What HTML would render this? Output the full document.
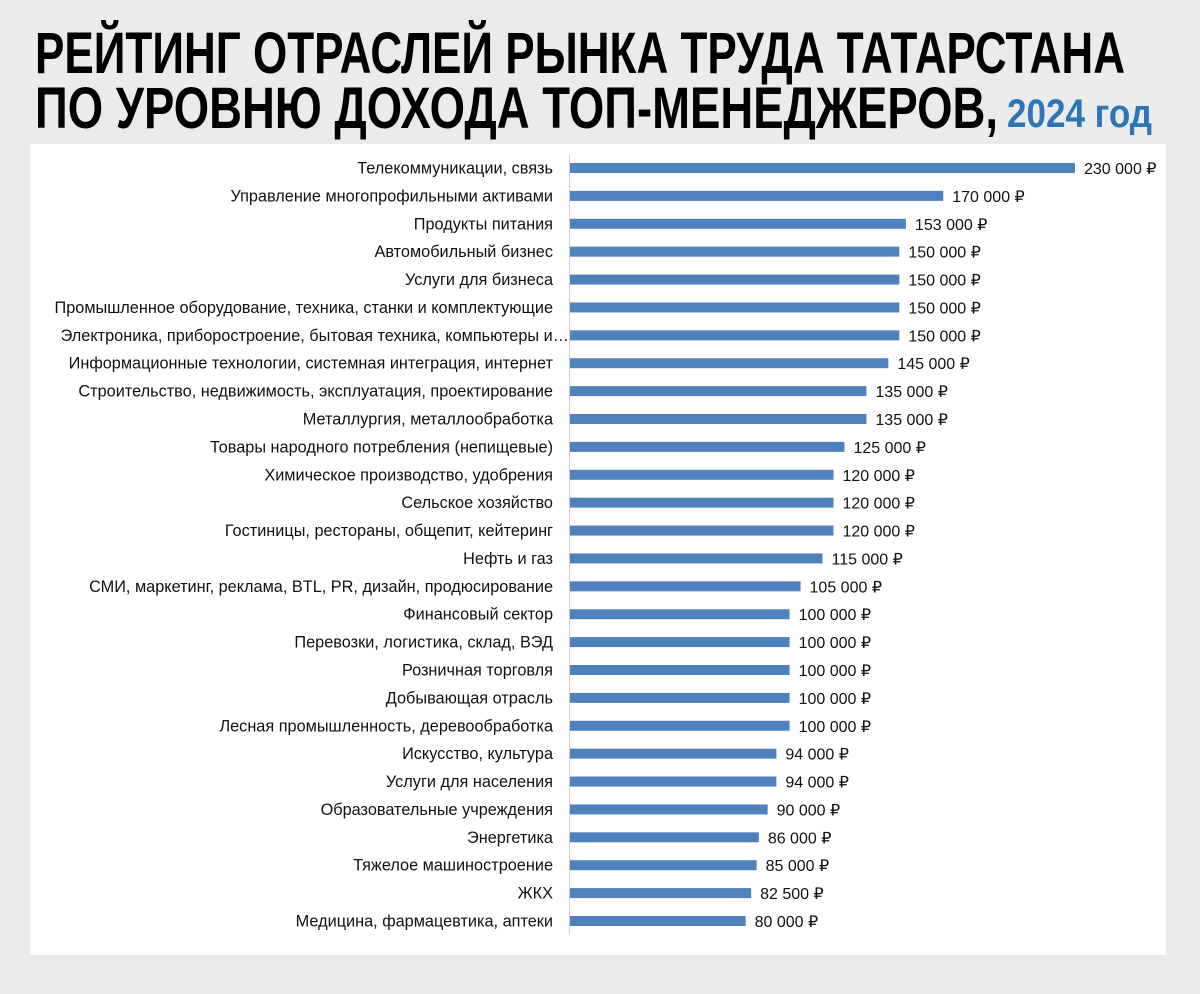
<!DOCTYPE html>
<html><head><meta charset="utf-8"><style>
html,body{margin:0;padding:0;background:#ebebeb;}
svg{display:block;font-family:"Liberation Sans",sans-serif;}
</style></head><body>
<svg id="chart" width="1200" height="994" viewBox="0 0 1200 994">
<rect x="0" y="0" width="1200" height="994" fill="#ebebeb"/>
<text x="35" y="73" font-size="58" font-weight="bold" fill="#000" textLength="1090" lengthAdjust="spacingAndGlyphs">РЕЙТИНГ ОТРАСЛЕЙ РЫНКА ТРУДА ТАТАРСТАНА</text>
<text x="35" y="128" font-size="58" font-weight="bold" fill="#000" textLength="963" lengthAdjust="spacingAndGlyphs">ПО УРОВНЮ ДОХОДА ТОП-МЕНЕДЖЕРОВ,</text>
<text x="1007" y="127" font-size="40" font-weight="bold" fill="#2e75b6" textLength="145" lengthAdjust="spacingAndGlyphs">2024 год</text>
<rect x="30" y="144" width="1136" height="811" fill="#fff"/>
<line x1="569.5" y1="154" x2="569.5" y2="935" stroke="#d0d0d0" stroke-width="1"/>
<g id="bars"></g>
</svg>
<script>
const categories = ["Телекоммуникации, связь","Управление многопрофильными активами","Продукты питания","Автомобильный бизнес","Услуги для бизнеса","Промышленное оборудование, техника, станки и комплектующие","Электроника, приборостроение, бытовая техника, компьютеры и…","Информационные технологии, системная интеграция, интернет","Строительство, недвижимость, эксплуатация, проектирование","Металлургия, металлообработка","Товары народного потребления (непищевые)","Химическое производство, удобрения","Сельское хозяйство","Гостиницы, рестораны, общепит, кейтеринг","Нефть и газ","СМИ, маркетинг, реклама, BTL, PR, дизайн, продюсирование","Финансовый сектор","Перевозки, логистика, склад, ВЭД","Розничная торговля","Добывающая отрасль","Лесная промышленность, деревообработка","Искусство, культура","Услуги для населения","Образовательные учреждения","Энергетика","Тяжелое машиностроение","ЖКХ","Медицина, фармацевтика, аптеки"];
const values = [230000,170000,153000,150000,150000,150000,150000,145000,135000,135000,125000,120000,120000,120000,115000,105000,100000,100000,100000,100000,100000,94000,94000,90000,86000,85000,82500,80000];
const valueLabels = ["230 000 ₽","170 000 ₽","153 000 ₽","150 000 ₽","150 000 ₽","150 000 ₽","150 000 ₽","145 000 ₽","135 000 ₽","135 000 ₽","125 000 ₽","120 000 ₽","120 000 ₽","120 000 ₽","115 000 ₽","105 000 ₽","100 000 ₽","100 000 ₽","100 000 ₽","100 000 ₽","100 000 ₽","94 000 ₽","94 000 ₽","90 000 ₽","86 000 ₽","85 000 ₽","82 500 ₽","80 000 ₽"];
const NS="http://www.w3.org/2000/svg";
const x0=570, xMax=230000, xW=505;
const xScale=v=>x0+v/xMax*xW;
const y0=168, step=(921-168)/27;
const yScale=i=>y0+i*step;
const g=document.getElementById('bars');
categories.forEach((c,i)=>{
  const y=yScale(i);
  const lab=document.createElementNS(NS,'text');
  
  
  lab.setAttribute('x',i===6?569:553);lab.setAttribute('y',y+5.5);
  lab.setAttribute('text-anchor','end');lab.setAttribute('font-size','16.3');lab.setAttribute('fill','#111');
  lab.textContent=c;g.appendChild(lab);
  const r=document.createElementNS(NS,'rect');
  
  
  r.setAttribute('x',x0);r.setAttribute('y',y-5);
  r.setAttribute('width',xScale(values[i])-x0);r.setAttribute('height',10);
  r.setAttribute('fill','#4f81bd');g.appendChild(r);
  const t=document.createElementNS(NS,'text');
  
  
  t.setAttribute('x',xScale(values[i])+9);t.setAttribute('y',y+6);
  t.setAttribute('font-size','16');t.setAttribute('fill','#111');
  t.textContent=valueLabels[i];g.appendChild(t);
});
</script>
</body></html>
